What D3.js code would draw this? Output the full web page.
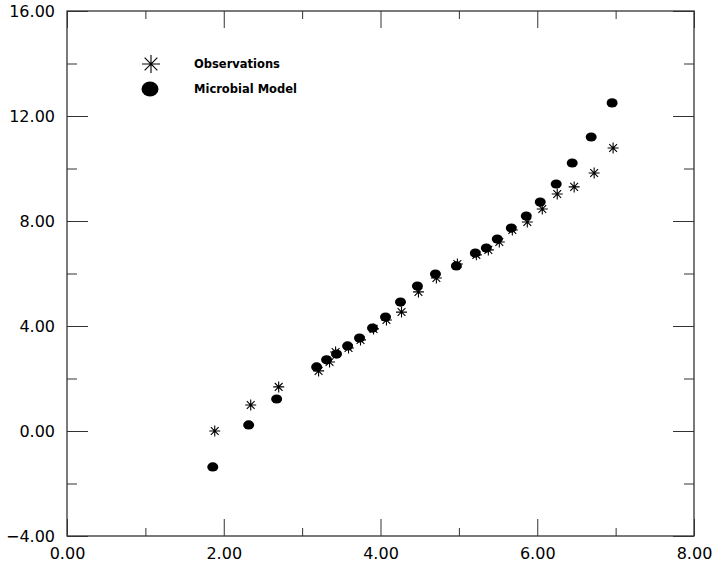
<!DOCTYPE html>
<html>
<head>
<meta charset="utf-8">
<script src="https://cdn.jsdelivr.net/npm/d3@7"></script>
<style>
  html, body { margin: 0; padding: 0; background: #fff; }
  svg { display: block; }
</style>
</head>
<body>
<svg id="chart" width="712" height="564"></svg>
<script>
// ---- data ----
const obsX = [1.885, 2.344, 2.701, 3.210, 3.350, 3.427, 3.592, 3.745, 3.911, 4.076, 4.268, 4.484,
              4.713, 4.981, 5.223, 5.376, 5.516, 5.682, 5.873, 6.064, 6.255, 6.471, 6.726, 6.968];
const obsY = [0.00, 0.99, 1.68, 2.29, 2.63, 3.01, 3.16, 3.47, 3.89, 4.23, 4.53, 5.30,
              5.83, 6.36, 6.71, 6.90, 7.20, 7.66, 7.96, 8.46, 9.03, 9.30, 9.83, 10.78];
const modX = [1.860, 2.318, 2.675, 3.185, 3.312, 3.439, 3.580, 3.732, 3.898, 4.064, 4.255, 4.471,
              4.701, 4.968, 5.210, 5.350, 5.490, 5.669, 5.860, 6.038, 6.242, 6.446, 6.688, 6.955];
const modY = [-1.37, 0.23, 1.22, 2.44, 2.71, 2.93, 3.24, 3.54, 3.92, 4.34, 4.91, 5.52,
              5.98, 6.29, 6.78, 6.97, 7.31, 7.73, 8.19, 8.72, 9.41, 10.21, 11.20, 12.50];
const xTickValues = [0, 2, 4, 6, 8];
const xMinorValues = [1, 3, 5, 7];
const yTickValues = [-4, 0, 4, 8, 12, 16];
const yMinorValues = [-2, 2, 6, 10, 14];
const legendLabels = ["Observations", "Microbial Model"];

// ---- layout ----
const svg = d3.select("#chart");
const L = 67, R = 694, T = 11, B = 536;
const x = d3.scaleLinear().domain([0, 8]).range([L, R]);
const y = d3.scaleLinear().domain([-4, 16]).range([B, T]);
const axisColor = "#333";
const fmt = d3.format(".2f");

// frame
svg.append("rect").attr("x", L).attr("y", T).attr("width", R - L).attr("height", B - T)
  .attr("fill", "none").attr("stroke", axisColor).attr("stroke-width", 1.3);

// axes via d3 axis generators (ticks inside)
const tickStyle = g => { g.select(".domain").remove(); g.selectAll("line").attr("stroke", axisColor); };
svg.append("g").attr("transform", `translate(0,${B})`)
  .call(d3.axisBottom(x).tickValues(xTickValues).tickSize(-17).tickFormat(fmt).tickPadding(22))
  .call(tickStyle)
  .call(g => g.selectAll("text").attr("font-family", "DejaVu Sans").attr("font-size", 16).attr("fill", "#000").attr("dy", null).attr("y", 23));
svg.append("g").attr("transform", `translate(0,${B})`)
  .call(d3.axisBottom(x).tickValues(xMinorValues).tickSize(-8).tickFormat(""))
  .call(tickStyle);
svg.append("g").attr("transform", `translate(0,${T})`)
  .call(d3.axisTop(x).tickValues(xTickValues).tickSize(-17).tickFormat(""))
  .call(tickStyle);
svg.append("g").attr("transform", `translate(0,${T})`)
  .call(d3.axisTop(x).tickValues(xMinorValues).tickSize(-8).tickFormat(""))
  .call(tickStyle);

svg.append("g").attr("transform", `translate(${L},0)`)
  .call(d3.axisLeft(y).tickValues(yTickValues).tickSize(-21).tickFormat(fmt))
  .call(tickStyle)
  .call(g => g.selectAll("text").attr("font-family", "DejaVu Sans").attr("font-size", 16).attr("fill", "#000")
    .attr("x", -12).attr("dy", "0.37em"));
svg.append("g").attr("transform", `translate(${L},0)`)
  .call(d3.axisLeft(y).tickValues(yMinorValues).tickSize(-10).tickFormat(""))
  .call(tickStyle);
svg.append("g").attr("transform", `translate(${R},0)`)
  .call(d3.axisRight(y).tickValues(yTickValues).tickSize(-21).tickFormat(""))
  .call(tickStyle);
svg.append("g").attr("transform", `translate(${R},0)`)
  .call(d3.axisRight(y).tickValues(yMinorValues).tickSize(-10).tickFormat(""))
  .call(tickStyle);

// star marker path
function starPath(cx, cy, r) {
  const d = r * Math.SQRT1_2;
  return `M${cx - r},${cy}L${cx + r},${cy}M${cx},${cy - r}L${cx},${cy + r}` +
         `M${cx - d},${cy - d}L${cx + d},${cy + d}M${cx - d},${cy + d}L${cx + d},${cy - d}`;
}

const obs = obsX.map((v, i) => ({ x: v, y: obsY[i] }));
const mod = modX.map((v, i) => ({ x: v, y: modY[i] }));

svg.append("g").selectAll("path").data(obs).join("path")
  .attr("d", d => starPath(x(d.x), y(d.y), 5.5))
  .attr("stroke", "#000").attr("stroke-width", 1.1).attr("fill", "none");

svg.append("g").selectAll("ellipse").data(mod).join("ellipse")
  .attr("cx", d => x(d.x)).attr("cy", d => y(d.y))
  .attr("rx", 5.5).attr("ry", 4.6).attr("fill", "#000");

// legend
const lg = svg.append("g");
lg.append("path").attr("d", starPath(151, 64, 9)).attr("stroke", "#000").attr("stroke-width", 1.1).attr("fill", "none");
lg.append("ellipse").attr("cx", 150).attr("cy", 89).attr("rx", 8.5).attr("ry", 7.5).attr("fill", "#000");
lg.selectAll("text").data(legendLabels).join("text")
  .attr("x", 194).attr("y", (d, i) => 68 + i * 25)
  .attr("font-family", "DejaVu Sans").attr("font-weight", "bold").attr("font-size", 11.5)
  .attr("fill", "#000").text(d => d);
</script>
</body>
</html>
